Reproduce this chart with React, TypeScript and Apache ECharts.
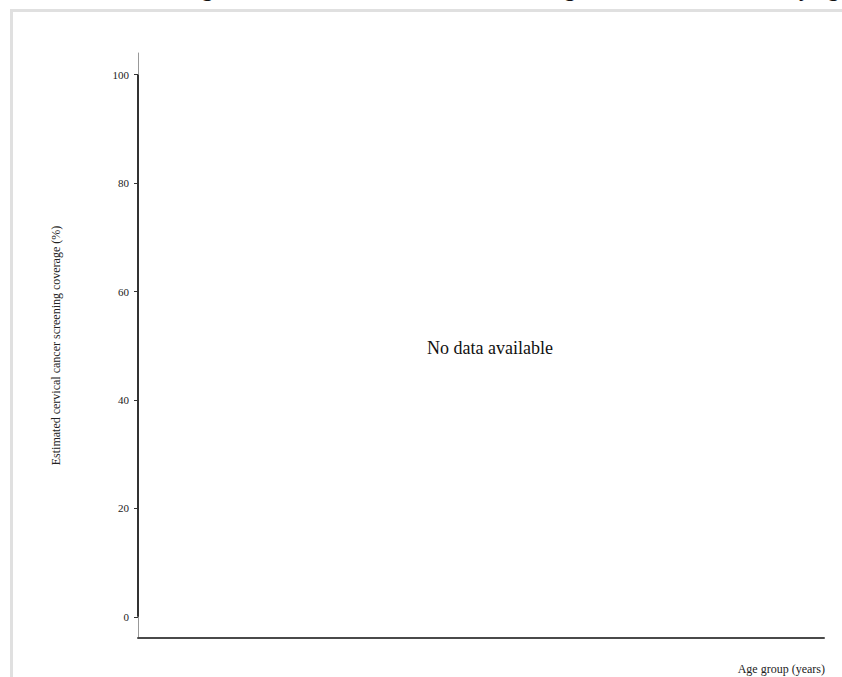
import React, { useEffect, useRef } from "react";
import * as echarts from "echarts";

// ---- Chart content ----
const TITLE = "Estimated screening rate for cervical cancer in women aged 30–49 in all areas, by age group";
const Y_AXIS_NAME = "Estimated cervical cancer screening coverage (%)";
const X_AXIS_NAME = "Age group (years)";
const EMPTY_MESSAGE = "No data available";

// No data in the reference: empty categories and values
const ageGroups: string[] = [];
const coverageValues: number[] = [];

// Y axis ticks and domain
const yTickValues = [0, 20, 40, 60, 80, 100];
const yDomainMin = -3.9;
const yDomainMax = 104;

const FONT = "'Liberation Serif', 'Times New Roman', serif";

export default function App() {
  const ref = useRef<HTMLDivElement>(null);

  useEffect(() => {
    if (!ref.current) return;
    const chart = echarts.init(ref.current, undefined, { renderer: "svg" });
    const firstTick = yTickValues[0];
    const lastTick = yTickValues[yTickValues.length - 1];
    chart.setOption({
      animation: false,
      backgroundColor: "transparent",
      textStyle: { fontFamily: FONT },
      grid: { left: 138, right: 18, top: 53, bottom: 39, containLabel: false },
      xAxis: {
        type: "value",
        min: 0,
        max: 1,
        name: X_AXIS_NAME,
        nameLocation: "end",
        nameGap: 1,
        nameTextStyle: {
          fontFamily: FONT,
          fontSize: 12,
          color: "#222",
          align: "right",
          verticalAlign: "top",
          padding: [25, 0, 0, 0],
        },
        axisLine: { show: true, onZero: false, lineStyle: { color: "#4a4a4a", width: 2 } },
        axisTick: { show: false },
        axisLabel: { show: false },
        splitLine: { show: false },
      },
      yAxis: {
        type: "value",
        min: yDomainMin,
        max: yDomainMax,
        name: Y_AXIS_NAME,
        nameLocation: "middle",
        nameGap: 76,
        nameRotate: 90,
        nameTextStyle: { fontFamily: FONT, fontSize: 12, color: "#222" },
        axisLine: { show: true, onZero: false, lineStyle: { color: "#999", width: 1 } },
        axisTick: {
          show: true,
          customValues: yTickValues,
          length: 4,
          lineStyle: { color: "#333", width: 1 },
        },
        axisLabel: {
          show: true,
          customValues: yTickValues,
          margin: 9,
          fontFamily: FONT,
          fontSize: 11,
          color: "#222",
        },
        splitLine: { show: false },
      },
      graphic: [
        {
          type: "text",
          left: 15,
          top: -23,
          silent: true,
          style: {
            text: TITLE,
            font: `bold 23px ${FONT}`,
            fill: "#111",
          },
        },
        {
          type: "text",
          x: 490,
          y: 348,
          silent: true,
          style: {
            text: ageGroups.length === 0 || coverageValues.length === 0 ? EMPTY_MESSAGE : "",
            font: `18px ${FONT}`,
            fill: "#111",
            align: "center",
            verticalAlign: "middle",
          },
        },
      ],
      series: [
        {
          // dark portion of the y-axis domain, spanning the tick range
          type: "line",
          data: [
            [0, firstTick],
            [0, lastTick],
          ],
          symbol: "none",
          clip: false,
          silent: true,
          lineStyle: { color: "#333", width: 2 },
          z: 5,
        },
      ],
    });
    return () => chart.dispose();
  }, []);

  return (
    <div
      style={{
        position: "fixed",
        left: 0,
        top: 0,
        width: 842,
        height: 677,
        overflow: "hidden",
        background: "#fff",
      }}
    >
      <div
        style={{
          position: "absolute",
          left: 10,
          top: 9,
          width: 1000,
          height: 1000,
          borderLeft: "3px solid #e0e0e0",
          borderTop: "3px solid #e0e0e0",
        }}
      />
      <div ref={ref} style={{ position: "absolute", left: 0, top: 0, width: 842, height: 677 }} />
    </div>
  );
}
